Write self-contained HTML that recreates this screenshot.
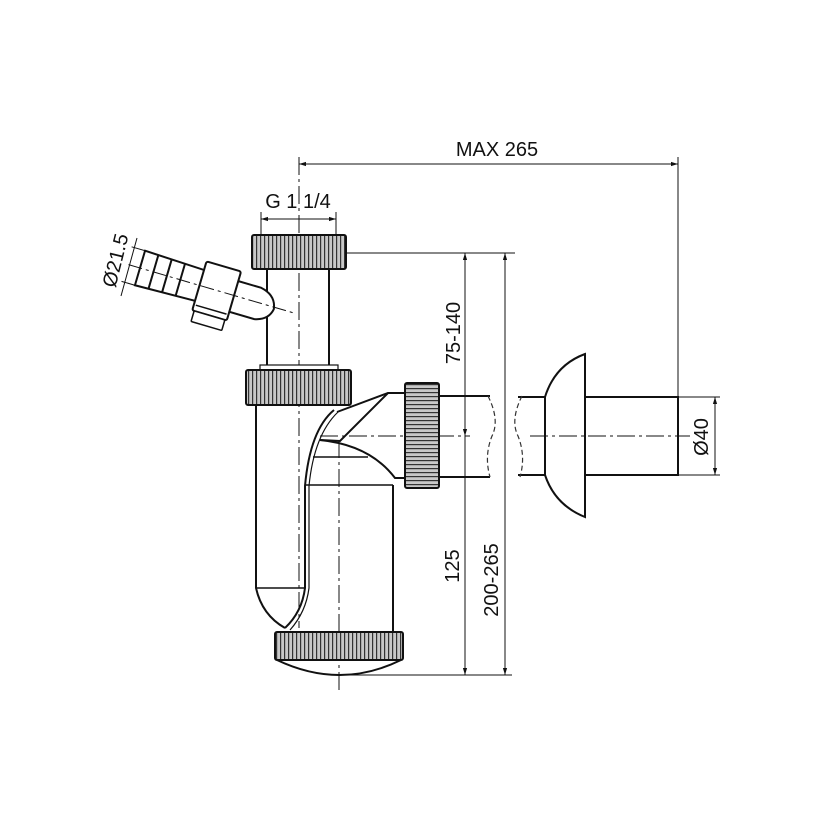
<!DOCTYPE html>
<html><head><meta charset="utf-8"><style>
html,body{margin:0;padding:0;background:#fff;}
svg{display:block;}
text{font-family:"Liberation Sans",Arial,sans-serif;fill:#111;}
</style></head><body>
<svg width="830" height="830" viewBox="0 0 830 830" xmlns="http://www.w3.org/2000/svg">
<defs>
<pattern id="kv" width="4" height="10" patternUnits="userSpaceOnUse">
<rect width="4" height="10" fill="#c8c8c8"/><rect width="1.2" height="10" fill="#333"/>
</pattern>
<pattern id="kh" width="10" height="4" patternUnits="userSpaceOnUse">
<rect width="10" height="4" fill="#c8c8c8"/><rect width="10" height="1.2" fill="#333"/>
</pattern>
<marker id="ar" viewBox="0 0 10 10" refX="10" refY="5" markerWidth="7" markerHeight="7" orient="auto-start-reverse"><path d="M0,2 L10,5 L0,8 z" fill="#111"/></marker>
</defs>

<g fill="none" stroke="#111" stroke-width="1">
<line x1="299" y1="164" x2="678" y2="164" marker-start="url(#ar)" marker-end="url(#ar)"/>
<line x1="678" y1="157" x2="678" y2="397"/>
<line x1="261" y1="219" x2="336" y2="219" marker-start="url(#ar)" marker-end="url(#ar)"/>
<line x1="261" y1="212" x2="261" y2="235"/>
<line x1="336" y1="212" x2="336" y2="235"/>
<line x1="346" y1="253" x2="515" y2="253"/>
<line x1="465" y1="253" x2="465" y2="436" marker-start="url(#ar)" marker-end="url(#ar)"/>
<line x1="505" y1="253" x2="505" y2="675" marker-start="url(#ar)" marker-end="url(#ar)"/>
<line x1="465" y1="436" x2="465" y2="675" marker-end="url(#ar)"/>
<line x1="340" y1="675" x2="512" y2="675"/>
<line x1="678" y1="397" x2="720" y2="397"/>
<line x1="678" y1="475" x2="720" y2="475"/>
<line x1="715" y1="397" x2="715" y2="475" marker-start="url(#ar)" marker-end="url(#ar)"/>
<line x1="299" y1="157" x2="299" y2="628" stroke-dasharray="18,4,3,4"/>
<line x1="339" y1="440" x2="339" y2="690" stroke-dasharray="18,4,3,4"/>
<line x1="320" y1="436" x2="470" y2="436" stroke-dasharray="18,4,3,4"/>
<line x1="530" y1="436" x2="690" y2="436" stroke-dasharray="18,4,3,4"/>
</g>

<g fill="none" stroke="#111" stroke-width="2">
<line x1="267" y1="269" x2="267" y2="366"/>
<line x1="329" y1="269" x2="329" y2="366"/>
<rect x="260" y="365" width="78" height="5" fill="#fff" stroke-width="1.2"/>
<path d="M256 405 L256 588 Q262 615 285 628"/>
<line x1="256" y1="588" x2="305" y2="588" stroke-width="1.5"/>
<path d="M334 410 Q310 430 305 486 L305 588 Q302 612 285 628"/>
<path d="M338 412 Q314 435 309 486 L309 588 Q306 612 290 630" stroke-width="1.2"/>
<line x1="393" y1="485" x2="393" y2="632"/>
<line x1="305" y1="485" x2="393" y2="485" stroke-width="1.5"/>
<line x1="313" y1="457" x2="368" y2="457" stroke-width="1.5"/>
<path d="M337 412 L388 393 L405 393"/>
<path d="M320 440 L340 441 L388 393"/>
<path d="M320 440 Q370 445 395 478 L405 478"/>
<line x1="439" y1="396" x2="490" y2="396"/>
<line x1="439" y1="477" x2="490" y2="477"/>
<line x1="518" y1="397" x2="545" y2="397"/>
<line x1="518" y1="475" x2="545" y2="475"/>
<line x1="545" y1="397" x2="545" y2="475"/>
<path d="M545 397 Q555 365 585 354 L585 517 Q555 505 545 475"/>
<rect x="585" y="397" width="93" height="78"/>
<path d="M277 660 Q340 690 401 660"/>
</g>
<g fill="none" stroke="#333" stroke-width="1.2" stroke-dasharray="5,3">
<path d="M488 396 Q500 420 492 436 Q484 456 490 477"/>
<path d="M522 396 Q510 420 518 436 Q526 456 520 477"/>
</g>

<g stroke="#111" stroke-width="2">
<rect x="252" y="235" width="94" height="34" rx="2" fill="url(#kv)"/>
<rect x="246" y="370" width="105" height="35" rx="2" fill="url(#kv)"/>
<rect x="275" y="632" width="128" height="28" rx="2" fill="url(#kv)"/>
<rect x="405" y="383" width="34" height="105" rx="2" fill="url(#kh)"/>
</g>

<!-- side hose -->
<g transform="translate(140,268) rotate(16.3)" stroke="#111" fill="#fff" stroke-width="2">
<path d="M95 -15 L122 -15 Q138 -12 140 2 Q138 14 124 17 L95 17 z"/>
<path d="M0 -18 L64 -16 L64 16 L0 18 z"/>
<line x1="14" y1="-18" x2="14" y2="18"/><line x1="28" y1="-17" x2="28" y2="17"/><line x1="42" y1="-17" x2="42" y2="17"/>
<rect x="62" y="-25" width="36" height="51" rx="2"/>
<rect x="64" y="26" width="32" height="11" rx="1" stroke-width="1.5"/>
<line x1="64" y1="20" x2="96" y2="20" stroke-width="1.5"/>
<line x1="-12" y1="0" x2="162" y2="0" stroke-width="1" stroke-dasharray="14,4,3,4"/>
<line x1="-14" y1="-18" x2="6" y2="-18" stroke-width="1"/>
<line x1="-14" y1="18" x2="6" y2="18" stroke-width="1"/>
</g>
<line x1="137" y1="238" x2="121" y2="296" stroke="#111" stroke-width="1"/>

<text x="497" y="156" font-size="20" text-anchor="middle">MAX 265</text>
<text x="298" y="208" font-size="20" text-anchor="middle">G 1 1/4</text>
<text transform="translate(122,262) rotate(-76)" font-size="20" text-anchor="middle">Ø21.5</text>
<text transform="translate(460,333) rotate(-90)" font-size="20" text-anchor="middle">75-140</text>
<text transform="translate(459,566) rotate(-90)" font-size="20" text-anchor="middle">125</text>
<text transform="translate(498,580) rotate(-90)" font-size="20" text-anchor="middle">200-265</text>
<text transform="translate(708,437) rotate(-90)" font-size="20" text-anchor="middle">Ø40</text>
</svg>
</body></html>
